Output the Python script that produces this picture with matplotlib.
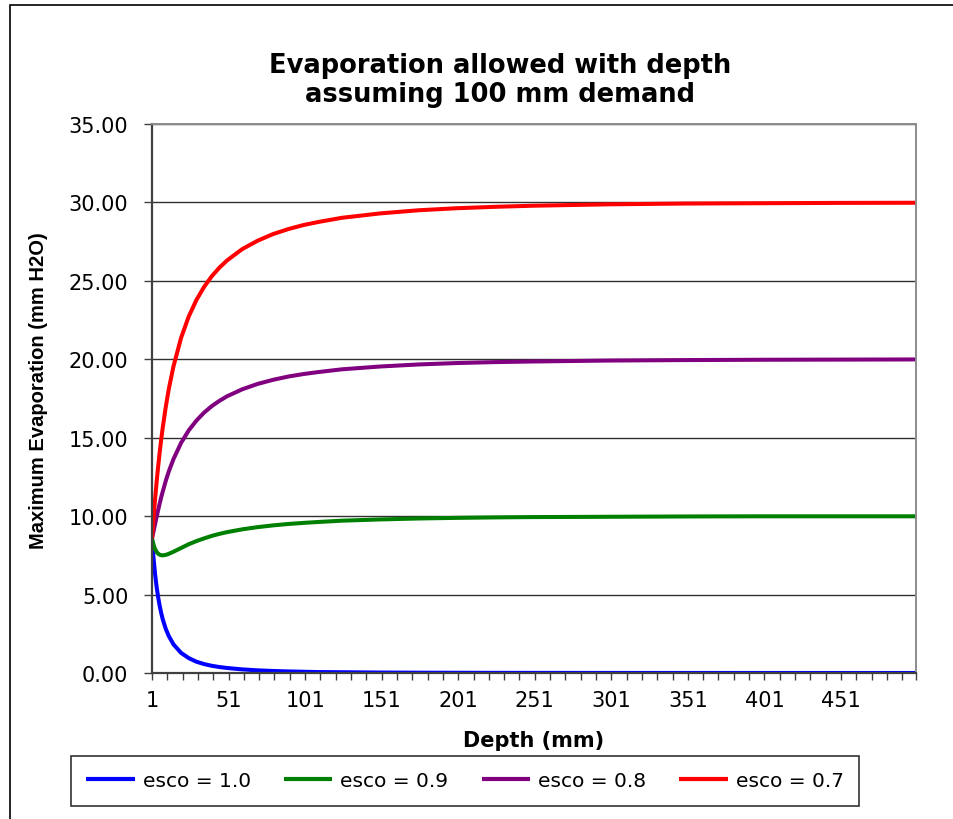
import matplotlib
matplotlib.use("Agg")
import matplotlib.pyplot as plt
from matplotlib.patches import Rectangle

# ---- data ----
depth = [1, 2, 3, 4, 5, 6, 7, 8, 10, 12, 15, 20, 25, 30, 35, 40, 45, 50, 60,
         70, 80, 90, 100, 110, 125, 150, 175, 200, 225, 250, 300, 350, 400,
         450, 500]
esco_10 = [8.57, 7.32, 6.31, 5.50, 4.84, 4.29, 3.83, 3.43, 2.81, 2.35, 1.83,
           1.28, 0.95, 0.72, 0.57, 0.46, 0.38, 0.32, 0.23, 0.17, 0.13, 0.10,
           0.08, 0.06, 0.05, 0.03, 0.02, 0.015, 0.01, 0.008, 0.004, 0.003,
           0.0014, 0.0009, 0.0005]
esco_09 = [8.57, 8.18, 7.90, 7.72, 7.61, 7.54, 7.51, 7.50, 7.53, 7.60, 7.73,
           7.97, 8.21, 8.41, 8.58, 8.74, 8.87, 8.98, 9.16, 9.30, 9.41, 9.50,
           9.57, 9.63, 9.71, 9.79, 9.85, 9.89, 9.92, 9.94, 9.96, 9.98, 9.99,
           9.99, 9.99]
esco_08 = [8.57, 9.03, 9.49, 9.94, 10.38, 10.80, 11.20, 11.56, 12.25, 12.86,
           13.63, 14.67, 15.47, 16.09, 16.60, 17.01, 17.35, 17.64, 18.09,
           18.43, 18.69, 18.90, 19.06, 19.19, 19.36, 19.54, 19.67, 19.76,
           19.82, 19.86, 19.92, 19.95, 19.97, 19.98, 19.99]
esco_07 = [8.57, 9.89, 11.08, 12.16, 13.15, 14.05, 14.88, 15.63, 16.97, 18.12,
           19.54, 21.37, 22.73, 23.78, 24.61, 25.29, 25.84, 26.30, 27.03,
           27.56, 27.98, 28.30, 28.56, 28.76, 29.02, 29.30, 29.50, 29.63,
           29.72, 29.79, 29.88, 29.93, 29.95, 29.97, 29.98]
series_labels = ["esco = 1.0", "esco = 0.9", "esco = 0.8", "esco = 0.7"]
series_colors = ["#0000FF", "#008000", "#800080", "#FF0000"]
x_tick_labels = ["1", "51", "101", "151", "201", "251", "301", "351", "401", "451"]
x_major = [int(s) for s in x_tick_labels]
x_minor = [v for v in list(range(1, 501, 10)) + [500] if v not in x_major]
y_ticks = [0, 5, 10, 15, 20, 25, 30, 35]

W, H = 954, 820
fig = plt.figure(figsize=(W / 100, H / 100), dpi=100)
fig.patch.set_facecolor("white")

# outer chart border
fig.patches.append(Rectangle((10 / W, -0.05), 1.2, 1 - 6 / H + 0.05,
                             transform=fig.transFigure, fill=False,
                             edgecolor="black", linewidth=1.2))

ax = fig.add_axes([152 / W, 1 - 674 / H, (916 - 152) / W, (674 - 125) / H])
for vals, lab, col in zip([esco_10, esco_09, esco_08, esco_07],
                          series_labels, series_colors):
    ax.plot(depth, vals, color=col, linewidth=2.9, label=lab,
            solid_capstyle="butt", solid_joinstyle="round")

ax.set_xlim(1, 500)
ax.set_ylim(0, 35)
ax.set_yticks(y_ticks)
ax.set_yticklabels([f"{v:.2f}" for v in y_ticks])
ax.set_xticks(x_major)
ax.set_xticklabels(x_tick_labels)
ax.set_xticks(x_minor, minor=True)

ax.tick_params(axis="y", which="major", direction="out", length=6, width=1,
               color="#404040", pad=11, labelsize=15)
ax.tick_params(axis="x", which="both", direction="out", length=5, width=1,
               color="#404040", pad=7, labelsize=15)
for lab in ax.get_xticklabels() + ax.get_yticklabels():
    lab.set_family("DejaVu Sans")

ax.yaxis.grid(True, color="#303030", linewidth=1)
ax.set_axisbelow(True)
ax.spines["left"].set_color("#404040")
ax.spines["left"].set_linewidth(1.6)
ax.spines["bottom"].set_color("#404040")
ax.spines["bottom"].set_linewidth(1.6)
ax.spines["top"].set_color("#8c8c8c")
ax.spines["top"].set_linewidth(1.4)
ax.spines["right"].set_color("#8c8c8c")
ax.spines["right"].set_linewidth(1.4)

# title
fig.text(500 / W, 1 - 73 / H, "Evaporation allowed with depth", ha="center",
         va="baseline", fontsize=18.5, fontweight="bold", family="DejaVu Sans")
fig.text(500 / W, 1 - 102 / H, "assuming 100 mm demand", ha="center",
         va="baseline", fontsize=18.5, fontweight="bold", family="DejaVu Sans")

# axis labels
fig.text(534 / W, 1 - 747 / H, "Depth (mm)", ha="center", va="baseline",
         fontsize=15, fontweight="bold", family="DejaVu Sans")
fig.text(39 / W, 1 - 391 / H, "Maximum Evaporation (mm H2O)", ha="center",
         va="center", rotation=90, fontsize=14.5, fontweight="bold",
         family="Liberation Sans")

# legend
leg = fig.legend(loc="center", bbox_to_anchor=(465 / W, 1 - 782 / H),
                 ncol=4, frameon=True, fancybox=False, shadow=False,
                 prop={"family": "DejaVu Sans", "size": 14.5},
                 handlelength=2.4, handletextpad=0.4, columnspacing=1.65,
                 borderpad=0.75, borderaxespad=0)
leg.get_frame().set_edgecolor("black")
leg.get_frame().set_linewidth(1.2)
for h in leg.get_lines():
    h.set_linewidth(3)

fig.savefig("out.png", dpi=100, facecolor="white")
